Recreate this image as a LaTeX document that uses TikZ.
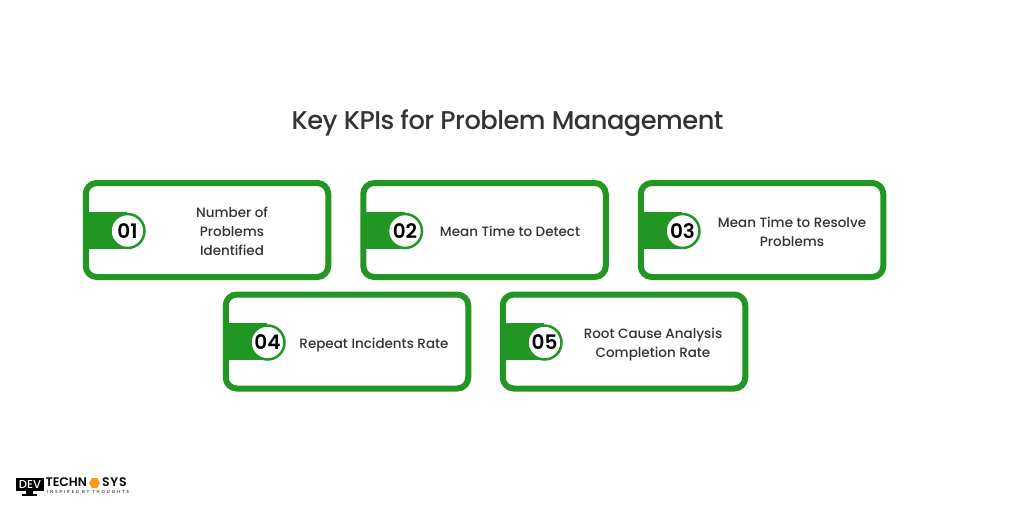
\documentclass[tikz,border=0pt]{standalone}
\usepackage{fontspec}
\setmainfont{Poppins}[UprightFont=* Medium,BoldFont=* SemiBold]
\usetikzlibrary{shapes.geometric}
\definecolor{kgreen}{HTML}{219623}
\definecolor{ktext}{HTML}{333333}
\definecolor{korange}{HTML}{F39A1F}
\tikzset{
  x=1pt,y=-1pt,
  cardbox/.style={draw=kgreen,line width=6pt,rounded corners=11pt,fill=white,minimum width=242.5pt,minimum height=94pt,inner sep=0pt},
  tabshape/.style={fill=kgreen},
  numdisc/.style={circle,fill=white,draw=kgreen,line width=2.5pt,minimum size=34pt,inner sep=0pt,font=\fontsize{20}{20}\selectfont\bfseries,text=black},
  cardtext/.style={align=center,text=ktext,font=\fontsize{13.5}{19}\selectfont},
  titletext/.style={text=ktext,font=\fontsize{25.7}{30}\selectfont\addfontfeature{LetterSpace=-2}},
}
\newcommand{\kcard}[7]{% name, cx, cy, number, textcx, texty, text
  \node[cardbox] (#1) at (#2,#3) {};
  \fill[tabshape] (#2-121,#3-18.5) rectangle (#2-80,#3+18.5);
  \node[numdisc] (#1n) at (#2-79.5,#3+1) {#4};
  \node[cardtext] (#1t) at (#5,#6) {#7};
}
\begin{document}
\begin{tikzpicture}
\useasboundingbox (0,0) rectangle (1014,507);
\fill[white] (0,0) rectangle (1014,507);
\node[titletext] (title) at (507.5,123) {Key KPIs for Problem Management};
\kcard{c1}{207}{230}{01}{232}{231.5}{Number of\\Problems\\Identified}
\kcard{c2}{484.5}{230}{02}{510}{231.5}{Mean Time to Detect}
\kcard{c3}{762}{230}{03}{792}{231.5}{Mean Time to Resolve\\Problems}
\kcard{c4}{347}{341.5}{04}{374}{345}{Repeat Incidents Rate}
\kcard{c5}{624}{341.5}{05}{653}{345}{Root Cause Analysis\\Completion Rate}
% logo
\fill[black] (15.5,477.5) rectangle (44,490.5);
\fill[black] (26,490.5) rectangle (33,494);
\fill[black] (22,494) rectangle (37,495.5);
\node[text=white,font=\fontsize{11.5}{12}\selectfont,inner sep=0pt] (ldev) at (30,484.5) {DEV};
\node[text=black,font=\fontsize{12.4}{12}\selectfont\bfseries,inner sep=0pt,anchor=west] (ltech) at (45.5,482) {TECHN};
\node[regular polygon,regular polygon sides=6,fill=korange,minimum size=11pt,inner sep=0pt] (lhex) at (94.5,483) {};
\node[text=black,font=\fontsize{12.4}{12}\selectfont\bfseries\addfontfeature{LetterSpace=6},inner sep=0pt,anchor=west] (lsys) at (102,482) {SYS};
\node[text=ktext,font=\fontsize{4.4}{4.4}\selectfont\addfontfeature{LetterSpace=42},inner sep=0pt,anchor=west] (ltag) at (47,491.6) {INSPIRED BY THOUGHTS};
\end{tikzpicture}
\end{document}
